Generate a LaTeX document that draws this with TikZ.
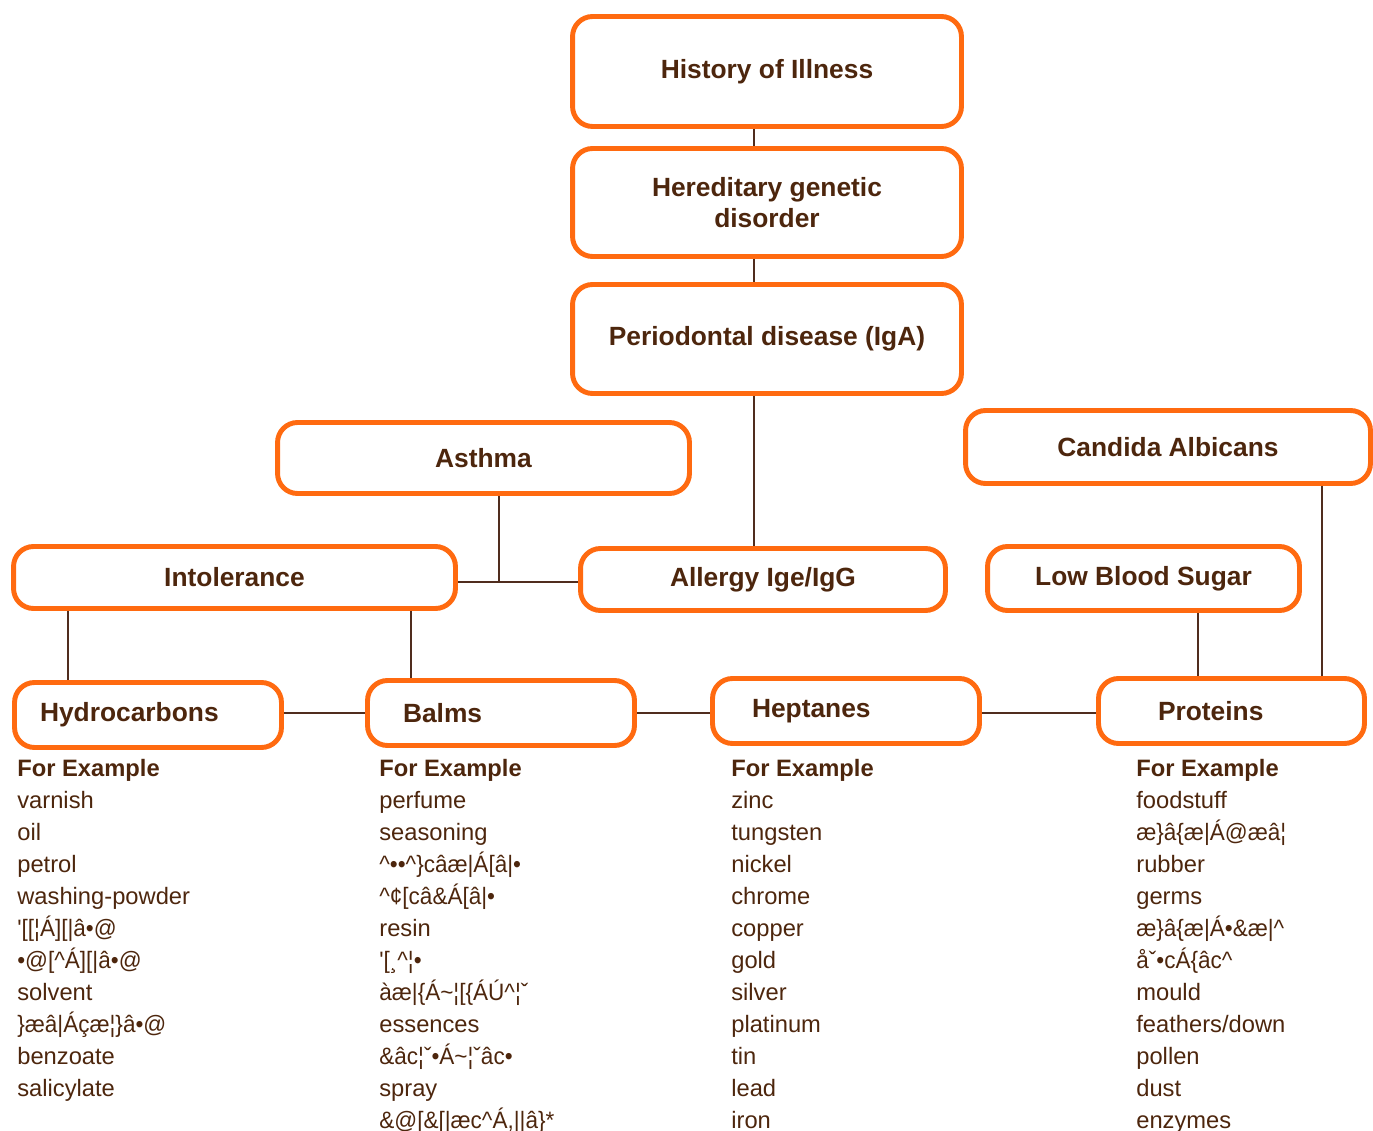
\documentclass[tikz,border=0pt]{standalone}
\usepackage{fontspec}
\usepackage{graphicx}
\setmainfont{Liberation Sans}
\usetikzlibrary{positioning}

\definecolor{boxorange}{RGB}{255,106,16}
\definecolor{txtbrown}{RGB}{77,38,13}
\definecolor{linebrown}{RGB}{80,45,30}

% garbled entries are printed in a narrow face
\newcommand{\garb}[1]{\scalebox{0.95}[1]{#1}}
\newcommand{\crc}{\textasciicircum}

\tikzset{
    box/.style={draw=boxorange, line width=2.8pt, rounded corners=0.4cm,
        fill=white, text=txtbrown, align=center,
        font=\bfseries\fontsize{15}{18}\selectfont},
    leafbox/.style={box, align=left, minimum height=1.3cm},
    link/.style={draw=linebrown, line width=1.3pt},
    item/.style={anchor=base west, inner sep=0pt, text=txtbrown,
        font=\fontsize{13.5}{16}\selectfont}
}

\begin{document}
\begin{tikzpicture}[x=0.02cm,y=-0.02cm]
    \useasboundingbox (0,0) rectangle (1373,1131);

    %top chain
    \node[box, minimum width=7.78cm, minimum height=2.2cm] (hist) at (767,71.5) {History of Illness};
    \node[box, minimum width=7.78cm, minimum height=2.16cm] (hered) at (767,202.5) {Hereditary genetic\\disorder};
    \node[box, minimum width=7.78cm, minimum height=2.18cm] (perio) at (767,339) {Periodontal disease (IgA)};

    %middle row
    \node[box, minimum width=8.24cm, minimum height=1.42cm] (asthma) at (483.5,458) {Asthma};
    \node[box, minimum width=8.1cm, minimum height=1.46cm] (candida) at (1168,447) {Candida Albicans};
    \node[box, minimum width=8.84cm, minimum height=1.24cm] (intol) at (234.5,577.5) {Intolerance};
    \node[box, minimum width=7.3cm, minimum height=1.24cm] (allergy) at (763,579.5) {Allergy Ige/IgG};
    \node[box, minimum width=6.24cm, minimum height=1.28cm] (lbs) at (1143.5,578.5) {Low Blood Sugar};

    %bottom row
    \node[leafbox, inner xsep=0.51cm, text width=4.32cm] (hydro) at (148,715) {Hydrocarbons};
    \node[leafbox, inner xsep=0.71cm, text width=3.92cm] (balms) at (501,713) {Balms};
    \node[leafbox, inner xsep=0.79cm, text width=3.76cm] (hept) at (846,711) {Heptanes};
    \node[leafbox, inner xsep=1.19cm, text width=2.94cm] (prot) at (1231.5,711) {Proteins};

    %helper points for the connectors
    \coordinate (spine) at (754,0);
    \coordinate (join) at (499,582);
    \coordinate (row) at (0,713);

    \draw[link] (hist.south -| spine) -- (hered.north -| spine);
    \draw[link] (hered.south -| spine) -- (perio.north -| spine);
    \draw[link] (perio.south -| spine) -- (allergy.north -| spine);
    \draw[link] (asthma.south -| join) -- (join);
    \draw[link] (intol.east |- join) -- (allergy.west |- join);
    \draw[link] (intol.south -| 68,0) -- (hydro.north -| 68,0);
    \draw[link] (intol.south -| 411,0) -- (balms.north -| 411,0);
    \draw[link] (hydro.east |- row) -- (balms.west |- row);
    \draw[link] (balms.east |- row) -- (hept.west |- row);
    \draw[link] (hept.east |- row) -- (prot.west |- row);
    \draw[link] (lbs.south -| 1198,0) -- (prot.north -| 1198,0);
    \draw[link] (candida.south -| 1322,0) -- (prot.north -| 1322,0);

    %lists of examples
    \foreach \txt [count=\k from 0] in {{\textbf{For Example}}, varnish, oil, petrol, washing-powder,
        {\garb{\textquotesingle[[¦Á][|â•@}}, {\garb{•@[\crc Á][|â•@}}, solvent,
        {\garb{\}æâ|Áçæ¦\}â•@}}, benzoate, salicylate}
        \node[item] (hydro-\k) at (17,{776+32*\k}) {\txt};

    \foreach \txt [count=\k from 0] in {{\textbf{For Example}}, perfume, seasoning,
        {\garb{\crc••\crc\}câæ|Á[â|•}}, {\garb{\crc¢[câ\&Á[â|•}}, resin,
        {\garb{\textquotesingle[¸\crc¦•}}, {\garb{àæ|\{Á\textasciitilde¦[\{ÁÚ\crc¦ˇ}}, essences,
        {\garb{\&âc¦ˇ•Á\textasciitilde¦ˇâc•}}, spray, {\garb{\&@[\&[|æc\crc Á,||â\}*}}}
        \node[item] (balms-\k) at (379,{776+32*\k}) {\txt};

    \foreach \txt [count=\k from 0] in {{\textbf{For Example}}, zinc, tungsten, nickel, chrome,
        copper, gold, silver, platinum, tin, lead, iron}
        \node[item] (hept-\k) at (731,{776+32*\k}) {\txt};

    \foreach \txt [count=\k from 0] in {{\textbf{For Example}}, foodstuff,
        {\garb{æ\}â\{æ|Á@æâ¦}}, rubber, germs, {\garb{æ\}â\{æ|Á•\&æ|\crc}},
        {\garb{åˇ•cÁ\{âc\crc}}, mould, feathers/down, pollen, dust, enzymes}
        \node[item] (prot-\k) at (1136,{776+32*\k}) {\txt};
\end{tikzpicture}
\end{document}
